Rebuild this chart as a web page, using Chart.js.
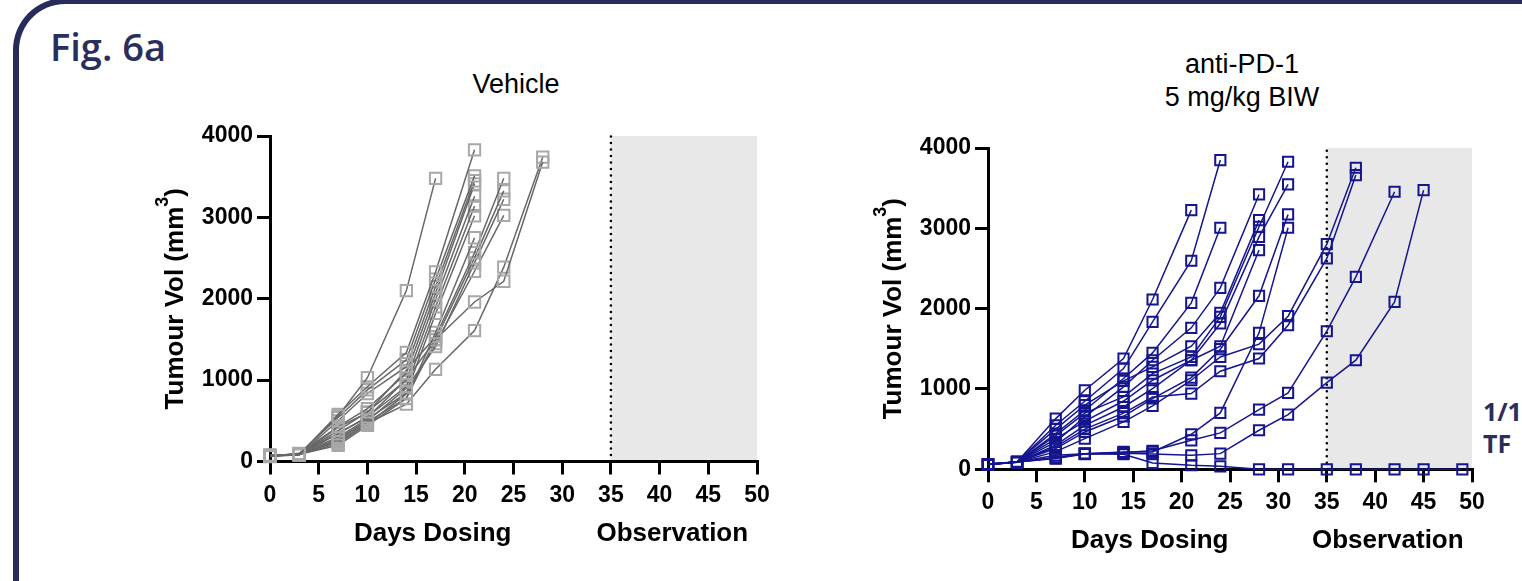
<!DOCTYPE html>
<html>
<head>
<meta charset="utf-8">
<script src="https://cdn.jsdelivr.net/npm/chart.js@4.4.1/dist/chart.umd.min.js"></script>
<style>
  html, body { margin: 0; padding: 0; background: #fff; }
  body { width: 1522px; height: 581px; position: relative; overflow: hidden; }
  .frame { position: absolute; left: 13px; top: -2px; width: 1600px; height: 700px;
    border-top: 6px solid #272c5b; border-left: 6px solid #272c5b; border-top-left-radius: 52px; box-sizing: border-box; }
  .fig { position: absolute; left: 50px; top: 27px; font: 600 38px/38px "Open Sans", sans-serif; color: #2a2e5c; }
  .title { position: absolute; font: 27px/33px "Liberation Sans", Arial, sans-serif; color: #000; text-align: center; }
  .tf { position: absolute; left: 1483px; top: 395px; font: 700 25px/32px "Open Sans", sans-serif; color: #2a2e5c; white-space: nowrap; }
  .box { position: absolute; }
</style>
</head>
<body>
<div class="frame"></div>
<div class="fig">Fig. 6a</div>
<div class="title" style="left:416px; top:68px; width:200px;">Vehicle</div>
<div class="title" style="left:1092px; top:48px; width:300px;">anti-PD-1<br>5 mg/kg BIW</div>
<div class="tf">1/15<br>TF</div>
<div class="box" style="left:130px; top:110px; width:670px; height:470px;"><canvas id="vehicleChart" width="670" height="470"></canvas></div>
<div class="box" style="left:848px; top:120px; width:674px; height:460px;"><canvas id="pd1Chart" width="674" height="460"></canvas></div>
<script>
// study days (dosing phase ends at day 35, observation to day 50)
const vehicleDays = [0, 3, 7, 10, 14, 17, 21, 24, 28];
const pd1Days = [0, 3, 7, 10, 14, 17, 21, 24, 28, 31, 35, 38, 42, 45, 49];
const observationStart = 35;
const xTicks = [0, 5, 10, 15, 20, 25, 30, 35, 40, 45, 50];
const yTicks = [0, 1000, 2000, 3000, 4000];

// tumour volume (mm3), one row per mouse
const vehicleVolumes = [
  [70, 90, 560, 1030, 2100, 3480],
  [72, 85, 580, 918, 1340, 2330, 3830],
  [66, 95, 540, 880, 1250, 2240, 3510],
  [75, 80, 500, 836, 1165, 2150, 3450],
  [62, 100, 430, 650, 1083, 2070, 3410],
  [70, 92, 380, 610, 1000, 1990, 3260],
  [80, 86, 340, 550, 920, 1900, 3140],
  [66, 96, 300, 520, 840, 1820, 3020],
  [70, 90, 260, 485, 780, 1585, 2750],
  [72, 85, 420, 600, 1120, 1535, 2565, 3480],
  [75, 90, 350, 540, 1010, 1494, 2503, 3326],
  [60, 82, 280, 500, 900, 1412, 2441, 3223],
  [70, 95, 240, 460, 830, 1450, 2338, 3025],
  [65, 90, 200, 445, 774, 1500, 1960, 2215, 3680],
  [70, 86, 220, 470, 704, 1133, 1609, 2388, 3740],
];

const pd1Volumes = [
  [62, 91, 631, 984, 1379, 2114, 3227],
  [62, 91, 548, 847, 1254, 1836, 2596, 3850],
  [62, 91, 444, 735, 1130, 1449, 2072, 3007],
  [60, 90, 340, 652, 1026, 1358, 1761, 2259, 3422],
  [65, 95, 500, 800, 1100, 1275, 1532, 1948, 3102],
  [60, 90, 420, 700, 901, 1192, 1400, 1898, 3019, 3829],
  [62, 92, 380, 600, 850, 1109, 1358, 1815, 2894, 3547],
  [60, 88, 300, 548, 776, 1005, 1358, 1532, 2729],
  [62, 90, 258, 465, 660, 881, 1142, 1495, 2160, 3173],
  [60, 88, 220, 382, 590, 789, 1109, 1399, 1558, 1906, 2803, 3754],
  [63, 92, 280, 500, 700, 900, 943, 1221, 1379, 1794, 2625, 3663],
  [62, 90, 174, 195, 216, 216, 436, 702, 1699, 3007],
  [60, 88, 150, 195, 210, 230, 361, 453, 744, 951, 1719, 2396, 3455],
  [62, 90, 133, 190, 200, 190, 174, 195, 486, 681, 1080, 1358, 2085, 3476],
  [62, 90, 140, 195, 187, 79, 50, 37, 0, 0, 0, 0, 0, 0, 0],
];

const fontFamily = '"Liberation Sans", Arial, sans-serif';
const axisFont = { family: fontFamily, weight: 'bold', size: 23 };

const phasePlugin = {
  id: 'phases',
  beforeDraw(chart) {
    const { ctx, scales: { x, y } } = chart;
    const x0 = x.getPixelForValue(observationStart);
    const x1 = x.getPixelForValue(50);
    const yTop = y.getPixelForValue(4000);
    const yBot = y.getPixelForValue(0);
    ctx.save();
    ctx.fillStyle = '#e8e8e8';
    ctx.fillRect(x0, yTop, x1 - x0, yBot - yTop);
    ctx.strokeStyle = '#000';
    ctx.lineWidth = 2.6;
    ctx.lineCap = 'round';
    ctx.setLineDash([0, 6.5]);
    ctx.beginPath();
    ctx.moveTo(x0, yBot);
    ctx.lineTo(x0, yTop);
    ctx.stroke();
    ctx.restore();
  },
  afterDraw(chart) {
    const { ctx, chartArea, scales: { x } } = chart;
    ctx.save();
    ctx.fillStyle = '#000';
    // x axis phase labels
    ctx.font = 'bold 26px ' + fontFamily;
    ctx.textAlign = 'center';
    ctx.textBaseline = 'middle';
    ctx.fillText('Days Dosing', x.getPixelForValue(16.7), chartArea.bottom + 72);
    ctx.fillText('Observation', x.getPixelForValue(41.3), chartArea.bottom + 72);
    // y axis title with superscript 3
    const main = 'Tumour Vol (mm';
    const mainFont = 'bold 26px ' + fontFamily;
    const supFont = 'bold 18px ' + fontFamily;
    ctx.font = mainFont;
    const w1 = ctx.measureText(main).width;
    const w3 = ctx.measureText(')').width;
    ctx.font = supFont;
    const w2 = ctx.measureText('3').width;
    const total = w1 + w2 + w3;
    ctx.translate(chartArea.left - 96, (chartArea.top + chartArea.bottom) / 2);
    ctx.rotate(-Math.PI / 2);
    ctx.textAlign = 'left';
    ctx.textBaseline = 'alphabetic';
    let u = -total / 2;
    ctx.font = mainFont;
    ctx.fillText(main, u, 9);
    u += w1;
    ctx.font = supFont;
    ctx.fillText('3', u, -6);
    u += w2;
    ctx.font = mainFont;
    ctx.fillText(')', u, 9);
    ctx.restore();
  },
};

function makeDatasets(days, rows, lineColor, markerColor, radius) {
  return rows.map((row, i) => ({
    label: 'Mouse ' + (i + 1),
    data: row.map((v, j) => ({ x: days[j], y: v })),
    borderColor: lineColor,
    borderWidth: 1.5,
    pointStyle: 'rect',
    pointRadius: radius,
    pointBorderWidth: 2,
    pointBorderColor: markerColor,
    pointBackgroundColor: 'rgba(0,0,0,0)',
    tension: 0,
    clip: false,
  }));
}

function renderChart(canvasId, datasets, pad, xHeight) {
  const config = {
    type: 'line',
    data: { datasets: datasets },
    options: {
      responsive: false,
      animation: false,
      devicePixelRatio: 1,
      layout: { padding: pad },
      plugins: { legend: { display: false }, tooltip: { enabled: false } },
      scales: {
        x: {
          type: 'linear',
          min: 0,
          max: 50,
          afterFit: (s) => { s.height = xHeight; },
          afterBuildTicks: (s) => { s.ticks = xTicks.map((v) => ({ value: v })); },
          grid: { drawOnChartArea: false, drawTicks: true, tickLength: 13, color: '#000', lineWidth: 3 },
          border: { display: true, color: '#000', width: 3 },
          ticks: { color: '#000', font: axisFont, padding: 7, maxRotation: 0, callback: (v) => String(v) },
        },
        y: {
          type: 'linear',
          min: 0,
          max: 4000,
          afterFit: (s) => { s.width = 140; },
          afterBuildTicks: (s) => { s.ticks = yTicks.map((v) => ({ value: v })); },
          grid: { drawOnChartArea: false, drawTicks: true, tickLength: 13, color: '#000', lineWidth: 3 },
          border: { display: true, color: '#000', width: 3 },
          ticks: { color: '#000', font: axisFont, padding: 4, callback: (v) => String(v) },
        },
      },
    },
    plugins: [phasePlugin],
  };
  return new Chart(document.getElementById(canvasId), config);
}

renderChart('vehicleChart',
  makeDatasets(vehicleDays, vehicleVolumes, '#676767', '#a8a8a8', 8),
  { top: 26, right: 43, left: 0, bottom: 0 }, 118.5);

renderChart('pd1Chart',
  makeDatasets(pd1Days, pd1Volumes, '#15158f', '#15158f', 7.2),
  { top: 28, right: 50, left: 0, bottom: 0 }, 110.7);
</script>
</body>
</html>
